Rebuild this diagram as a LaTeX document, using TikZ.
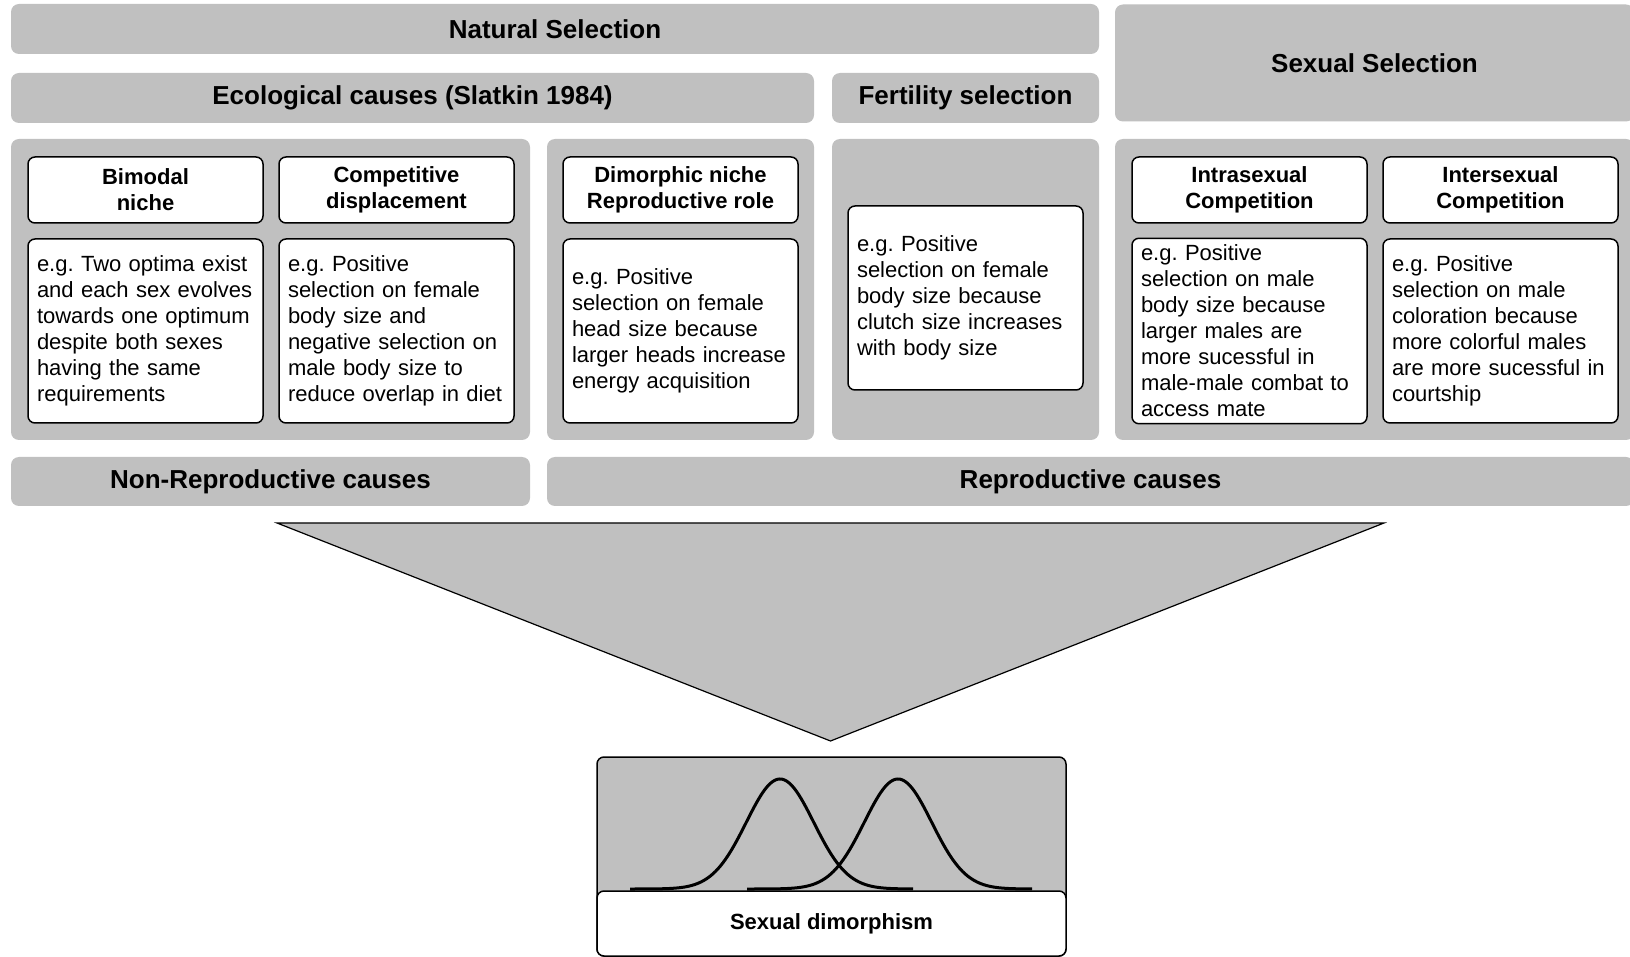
\documentclass[tikz,border=0pt]{standalone}
\usepackage{fontspec}
\setmainfont{Liberation Sans}
\frenchspacing
\definecolor{causegray}{RGB}{192,192,192}
\begin{document}
\begin{tikzpicture}[x=0.5pt,y=-0.5pt,
    bar/.style={fill=causegray,rounded corners=4pt,inner sep=0pt,font=\fontsize{13}{15}\selectfont\bfseries},
    panel/.style={fill=causegray,rounded corners=4pt,minimum height=150.5pt},
    head/.style={draw,fill=white,line width=0.75pt,rounded corners=3.5pt,minimum width=117.5pt,minimum height=33pt,align=center,font=\fontsize{11}{13}\selectfont\bfseries},
    example/.style={draw,fill=white,line width=0.75pt,rounded corners=3.5pt,minimum width=117.5pt,minimum height=92pt,text width=108.5pt,inner xsep=4.5pt,align=left,font=\fontsize{11}{13}\selectfont}]
    \clip (0,0) rectangle (1630,957);
    \fill[white] (0,0) rectangle (1630,957);
    \node[bar,minimum width=544pt,minimum height=25pt] (natural) at (555,29) {Natural Selection};
    \node[bar,minimum width=259.5pt,minimum height=58.5pt] (sexual) at (1374.5,63) {Sexual Selection};
    \node[bar,minimum width=401.5pt,minimum height=25pt] (ecological) at (412.5,98) {Ecological causes (Slatkin 1984)};
    \node[bar,minimum width=133.5pt,minimum height=25pt] (fertility) at (965.5,98) {Fertility selection};
    \node[panel,minimum width=259.5pt] (nonrepro) at (270.5,289.5) {};
    \node[panel,minimum width=133.5pt] (niche) at (680.5,289.5) {};
    \node[panel,minimum width=133.5pt] (clutch) at (965.5,289.5) {};
    \node[panel,minimum width=259.5pt] (mating) at (1374.5,289.5) {};
    \node[head] (bimodal) at (145.5,190) {Bimodal\\niche};
    \node[head] (competitive) at (396.5,190) {Competitive\\displacement};
    \node[head] (dimorphic) at (680.5,190) {Dimorphic niche\\Reproductive role};
    \node[head] (intra) at (1249.5,190) {Intrasexual\\Competition};
    \node[head] (inter) at (1500.5,190) {Intersexual\\Competition};
    \node[example] (bimodalex) at (145.5,331) {e.g. Two optima exist\\and each sex evolves\\towards one optimum\\despite both sexes\\having the same\\requirements};
    \node[example] (competitiveex) at (396.5,331) {e.g. Positive\\selection on female\\body size and\\negative selection on\\male body size to\\reduce overlap in diet};
    \node[example] (dimorphicex) at (680.5,331) {e.g. Positive\\selection on female\\head size because\\larger heads increase\\energy acquisition};
    \node[example] (fertilityex) at (965.5,298) {e.g. Positive\\selection on female\\body size because\\clutch size increases\\with body size};
    \node[example] (intraex) at (1249.5,331) {e.g. Positive\\selection on male\\body size because\\larger males are\\more sucessful in\\male-male combat to\\access mate};
    \node[example] (interex) at (1500.5,331) {e.g. Positive\\selection on male\\coloration because\\more colorful males\\are more sucessful in\\courtship};
    \node[bar,minimum width=259.5pt,minimum height=24.5pt] (nonreprocauses) at (270.5,481.5) {Non-Reproductive causes};
    \node[bar,minimum width=543.5pt,minimum height=24.5pt] (reprocauses) at (1090.5,481.5) {Reproductive causes};
    \filldraw[fill=causegray,line width=0.6pt] (277,523) -- (1384,523) -- (830.5,741) -- cycle;
    \node[draw,fill=causegray,line width=0.75pt,rounded corners=3.5pt,minimum width=234.5pt,minimum height=99.5pt] (dimorph) at (831.5,856.5) {};
    \draw[line width=1.5pt] plot[domain=-150:133,samples=120] ({780+\x},{889-110*exp(-0.5*(\x/33.7)^2)});
    \draw[line width=1.5pt] plot[domain=-151:134,samples=120] ({898+\x},{889-110*exp(-0.5*(\x/33.7)^2)});
    \node[draw,fill=white,line width=0.75pt,rounded corners=3.5pt,minimum width=234.5pt,minimum height=32.5pt,font=\fontsize{11}{13}\selectfont\bfseries] (dimlabel) at (831.5,923.5) {Sexual dimorphism};
\end{tikzpicture}
\end{document}
